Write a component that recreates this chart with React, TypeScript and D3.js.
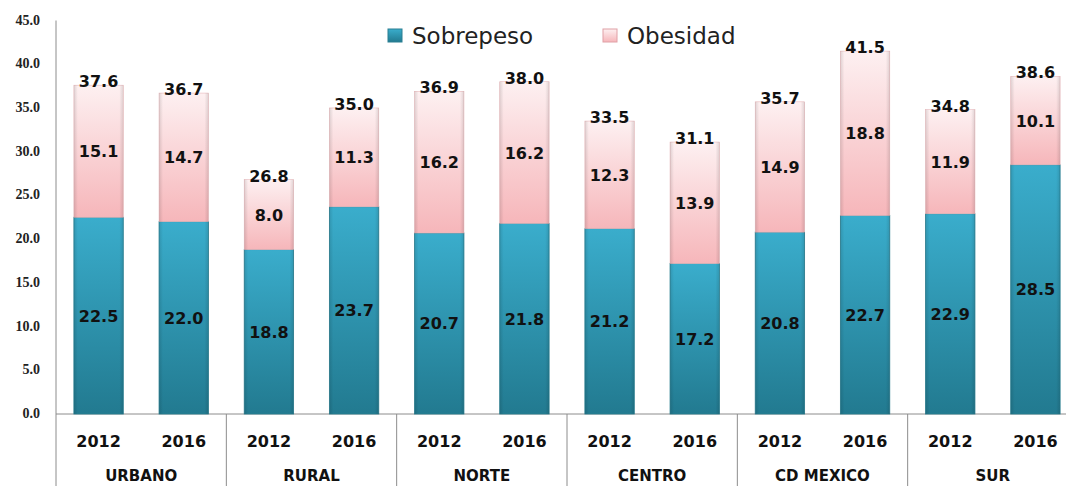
import React, { useRef, useEffect } from 'react';
import * as d3 from 'd3';

const regions = ['URBANO', 'RURAL', 'NORTE', 'CENTRO', 'CD MEXICO', 'SUR'];
const years = ['2012', '2016'];
const sobrepeso = [22.5, 22.0, 18.8, 23.7, 20.7, 21.8, 21.2, 17.2, 20.8, 22.7, 22.9, 28.5];
const obesidad = [15.1, 14.7, 8.0, 11.3, 16.2, 16.2, 12.3, 13.9, 14.9, 18.8, 11.9, 10.1];
const totals = [37.6, 36.7, 26.8, 35.0, 36.9, 38.0, 33.5, 31.1, 35.7, 41.5, 34.8, 38.6];
const yTicks = [0, 5, 10, 15, 20, 25, 30, 35, 40, 45];

const W = 1066;
const H = 486;

const App: React.FC = () => {
  const svgRef = useRef<SVGSVGElement>(null);

  useEffect(() => {
    if (!svgRef.current) return;
    const svg = d3.select(svgRef.current);
    svg.selectAll('*').remove();

    // plot area runs past the right edge of the picture (cut off like the original)
    const left = 56;
    const right = 1078;
    const y = d3.scaleLinear().domain([0, 45]).range([414, 20.5]);
    const keys = d3.range(12).map(String);
    const x = d3.scaleBand().domain(keys).range([left, right]).paddingInner(0.42).paddingOuter(0.21);
    const xr = d3.scaleBand().domain(regions).range([left, right]);

    const defs = svg.append('defs');
    const teal = defs.append('linearGradient').attr('id', 'teal').attr('x1', 0).attr('y1', 0).attr('x2', 0).attr('y2', 1);
    teal.append('stop').attr('offset', '0%').attr('stop-color', '#3aadcc');
    teal.append('stop').attr('offset', '100%').attr('stop-color', '#227a90');
    const pink = defs.append('linearGradient').attr('id', 'pink').attr('x1', 0).attr('y1', 0).attr('x2', 0).attr('y2', 1);
    pink.append('stop').attr('offset', '0%').attr('stop-color', '#fdf0f1');
    pink.append('stop').attr('offset', '100%').attr('stop-color', '#f6b6ba');
    const edge = defs.append('linearGradient').attr('id', 'edge').attr('x1', 0).attr('y1', 0).attr('x2', 1).attr('y2', 0);
    edge.append('stop').attr('offset', '0%').attr('stop-color', '#000').attr('stop-opacity', 0.12);
    edge.append('stop').attr('offset', '8%').attr('stop-color', '#000').attr('stop-opacity', 0);
    edge.append('stop').attr('offset', '92%').attr('stop-color', '#000').attr('stop-opacity', 0);
    edge.append('stop').attr('offset', '100%').attr('stop-color', '#000').attr('stop-opacity', 0.12);

    // y axis
    svg.append('line').attr('x1', left).attr('x2', left).attr('y1', y(45)).attr('y2', y(0))
      .attr('stroke', '#8c8c8c').attr('stroke-width', 1);
    svg.selectAll('.ytick').data(yTicks).enter().append('text')
      .attr('x', 40).attr('y', d => y(d) + 4)
      .attr('text-anchor', 'end')
      .style('font-family', 'Liberation Serif, serif').style('font-weight', 'bold').style('font-size', '14px')
      .style('fill', '#222')
      .text(d => d.toFixed(1));

    // baseline + separators
    svg.append('line').attr('x1', left).attr('x2', right).attr('y1', y(0)).attr('y2', y(0))
      .attr('stroke', '#8c8c8c');
    const seps = regions.map(r => xr(r) as number).concat([right]);
    svg.selectAll('.sep').data(seps).enter().append('line')
      .attr('x1', d => d).attr('x2', d => d).attr('y1', y(0)).attr('y2', H)
      .attr('stroke', '#8c8c8c');

    const bars = svg.selectAll('.bar').data(keys).enter().append('g');
    bars.append('rect')
      .attr('x', d => x(d) as number).attr('width', x.bandwidth())
      .attr('y', (d, i) => y(sobrepeso[i])).attr('height', (d, i) => y(0) - y(sobrepeso[i]))
      .attr('fill', 'url(#teal)').attr('stroke', '#2a7f92').attr('stroke-width', 0.8);
    bars.append('rect')
      .attr('x', d => x(d) as number).attr('width', x.bandwidth())
      .attr('y', (d, i) => y(sobrepeso[i] + obesidad[i])).attr('height', (d, i) => y(sobrepeso[i]) - y(sobrepeso[i] + obesidad[i]))
      .attr('fill', 'url(#pink)').attr('stroke', '#e8b8bb').attr('stroke-width', 0.6);
    bars.append('rect')
      .attr('x', d => x(d) as number).attr('width', x.bandwidth())
      .attr('y', (d, i) => y(sobrepeso[i] + obesidad[i])).attr('height', (d, i) => y(0) - y(sobrepeso[i] + obesidad[i]))
      .attr('fill', 'url(#edge)');

    const labelStyle = (sel: any) => sel
      .attr('text-anchor', 'middle')
      .style('font-family', 'DejaVu Sans, Verdana, sans-serif').style('font-weight', 'bold').style('font-size', '16px')
      .style('fill', '#111');

    bars.append('text')
      .attr('x', d => (x(d) as number) + x.bandwidth() / 2)
      .attr('y', (d, i) => y(sobrepeso[i] / 2) + 6)
      .call(labelStyle)
      .text((d, i) => sobrepeso[i].toFixed(1));
    bars.append('text')
      .attr('x', d => (x(d) as number) + x.bandwidth() / 2)
      .attr('y', (d, i) => y(sobrepeso[i] + obesidad[i] / 2) + 6)
      .call(labelStyle)
      .text((d, i) => obesidad[i].toFixed(1));
    bars.append('text')
      .attr('x', d => (x(d) as number) + x.bandwidth() / 2)
      .attr('y', (d, i) => y(totals[i]) + 2)
      .call(labelStyle)
      .text((d, i) => totals[i].toFixed(1));

    // year labels
    svg.selectAll('.year').data(keys).enter().append('text')
      .attr('x', d => (x(d) as number) + x.bandwidth() / 2)
      .attr('y', 447)
      .attr('text-anchor', 'middle')
      .style('font-family', 'DejaVu Sans, Verdana, sans-serif').style('font-weight', 'bold').style('font-size', '16px')
      .style('fill', '#111')
      .text((d, i) => years[i % 2]);

    svg.selectAll('.region').data(regions).enter().append('text')
      .attr('x', d => (xr(d) as number) + xr.bandwidth() / 2)
      .attr('y', 481)
      .attr('text-anchor', 'middle')
      .style('font-family', 'DejaVu Sans, Verdana, sans-serif').style('font-weight', 'bold').style('font-size', '15px')
      .style('fill', '#111')
      .text(d => d);

    // legend
    const legend = [
      { label: 'Sobrepeso', fill: 'url(#teal)', x: 388 },
      { label: 'Obesidad', fill: 'url(#pink)', x: 603 },
    ];
    const lg = svg.selectAll('.legend').data(legend).enter().append('g');
    lg.append('rect')
      .attr('x', d => d.x).attr('y', 29).attr('width', 14).attr('height', 13)
      .attr('fill', d => d.fill).attr('stroke', (d, i) => i === 0 ? '#2a7f92' : '#e0a0a6');
    lg.append('text')
      .attr('x', d => d.x + 24).attr('y', 44)
      .style('font-family', 'DejaVu Sans, Verdana, sans-serif').style('font-size', '23px')
      .style('fill', '#222')
      .text(d => d.label);
  }, []);

  return (
    <svg ref={svgRef} width={W} height={H} style={{ position: 'absolute', left: 0, top: 0, background: '#fff' }} />
  );
};

export default App;
